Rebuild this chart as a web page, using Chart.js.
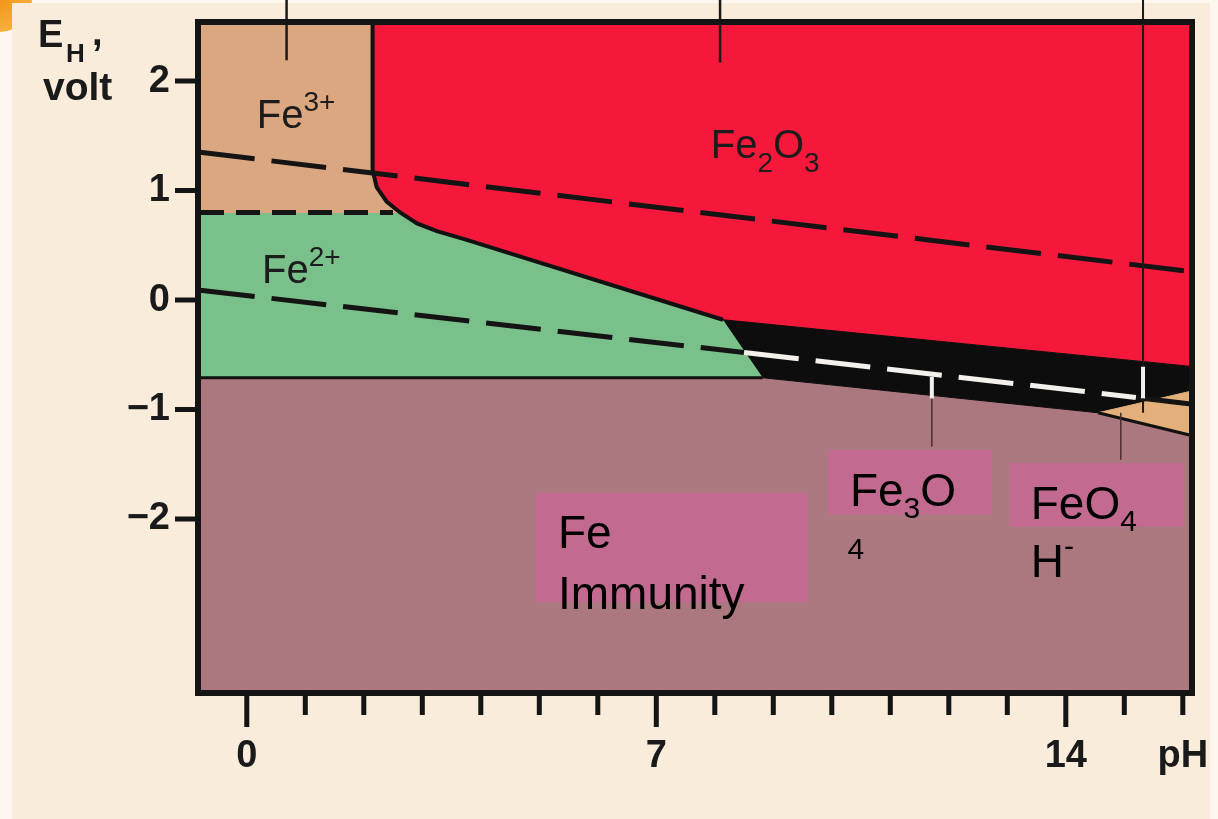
<!DOCTYPE html>
<html>
<head>
<meta charset="utf-8">
<script src="https://cdn.jsdelivr.net/npm/chart.js@4.4.1/dist/chart.umd.min.js"></script>
<style>
  html, body { margin: 0; padding: 0; background: #f9ecdb; }
  #wrap { position: relative; width: 1218px; height: 819px; }
</style>
</head>
<body>
<div id="wrap"><canvas id="pourbaix" width="1218" height="819"></canvas></div>
<script>
// [pH, potential in volt] pairs
var fe3Region = [[-1, 2.7], [2.15, 2.7], [2.15, 1.19], [2.22, 1.03], [2.39, 0.90], [2.58, 0.80], [-1, 0.80]];
var fe2o3Region = [[2.15, 2.7], [16.4, 2.7], [16.4, -0.62], [8.14, -0.18], [3.76, 0.55], [3.25, 0.63], [2.91, 0.70], [2.62, 0.80], [2.39, 0.90], [2.22, 1.03], [2.15, 1.19]];
var fe2Region = [[-1, 0.80], [2.62, 0.80], [2.91, 0.70], [3.25, 0.63], [3.76, 0.55], [8.14, -0.18], [8.82, -0.71], [-1, -0.71]];
var fe3o4Region = [[8.14, -0.18], [16.4, -0.62], [16.4, -0.81], [14.55, -1.03], [8.82, -0.71]];
var hfeo2Region = [[14.55, -1.03], [16.4, -0.80], [16.4, -1.27]];
var feRegion = [[-1, -0.71], [8.82, -0.71], [14.55, -1.03], [16.4, -1.27], [16.4, -3.8], [-1, -3.8]];

var fe3Boundary = [[2.15, 2.7], [2.15, 1.19], [2.22, 1.03], [2.39, 0.90], [2.62, 0.80], [2.91, 0.70], [3.25, 0.63], [3.76, 0.55], [8.14, -0.18]];
var fe2FeBoundary = [[-1, -0.71], [8.82, -0.71]];
var hfeo2Lower = [[14.55, -1.03], [16.4, -1.27]];

var oxygenLine = [[-0.8, 1.35], [16.14, 0.26]];
var fe3Fe2Line = [[-0.8, 0.80], [2.5, 0.80]];
var hydrogenLine = [[-0.8, 0.09], [8.5, -0.48], [15.2, -0.89], [16.14, -0.95]];

var leaderFe3 = [[0.68, 2.74], [0.68, 2.19]];
var leaderFe2o3 = [[8.09, 2.74], [8.09, 2.17]];
var leaderFe3o4 = [[11.71, -0.70], [11.71, -0.90], [11.71, -1.34]];
var leaderRight = [[15.32, 2.74], [15.32, -0.61], [15.32, -0.90], [15.32, -1.03]];
var leaderHfeo2 = [[14.94, -1.03], [14.94, -1.46]];

var pHTicks = [0, 1, 2, 3, 4, 5, 6, 7, 8, 9, 10, 11, 12, 13, 14, 15, 16];
var pHMajor = [0, 7, 14];
var pHLabels = { 0: '0', 7: '7', 14: '14', 16: 'pH' };
var eTicks = [-2, -1, 0, 1, 2];

// pink label boxes: [pH from, pH to, E top, E bottom]
var boxes = [[4.94, 9.59, -1.76, -2.76], [9.93, 12.74, -1.37, -1.96], [13.03, 16.02, -1.49, -2.07]];

var regionLabels = [
  { at: [0.17, 1.57], parts: [['Fe', 40, 0], ['3+', 28, -17]] },
  { at: [0.26, 0.155], parts: [['Fe', 40, 0], ['2+', 28, -17]] },
  { at: [7.93, 1.30], parts: [['Fe', 40, 0], ['2', 28, 14], ['O', 40, 0], ['3', 28, 14]] }
];
var boxLabels = [
  { at: [5.32, -2.265], parts: [['Fe', 46, 0]] },
  { at: [5.32, -2.82], parts: [['Immunity', 46, 0]] },
  { at: [10.31, -1.88], parts: [['Fe', 46, 0], ['3', 30, 12], ['O', 46, 0]] },
  { at: [10.27, -2.37], parts: [['4', 30, 0]] },
  { at: [13.40, -2.0], parts: [['FeO', 46, 0], ['4', 30, 12]] },
  { at: [13.40, -2.53], parts: [['H', 46, 0], ['-', 30, -21]] }
];

var FONT = '"Liberation Sans", Arial, Helvetica, sans-serif';

function toXY(pairs) {
    return pairs.map(function (p) { return { x: p[0], y: p[1] }; });
}

function area(pairs, color, order) {
    return {
        data: toXY(pairs), showLine: true, fill: 'shape',
        backgroundColor: color, borderColor: color, borderWidth: 1,
        pointRadius: 0, order: order
    };
}

function line(pairs, color, width, dash, order) {
    return {
        data: toXY(pairs), showLine: true, fill: false,
        borderColor: color, borderWidth: width, borderDash: dash || [],
        pointRadius: 0, order: order
    };
}

function drawParts(ctx, x, y, parts) {
    parts.forEach(function (p) {
        ctx.font = p[1] + 'px ' + FONT;
        ctx.fillText(p[0], x, y + p[2]);
        x += ctx.measureText(p[0]).width;
    });
}

function noPadding(s) {
    s.paddingTop = 0; s.paddingBottom = 0; s.paddingLeft = 0; s.paddingRight = 0;
}

var hydro = line(hydrogenLine, '#141414', 5, [55, 17], 3);
hydro.segment = { borderColor: function (c) { return c.p0DataIndex === 1 ? '#f4f1ec' : '#141414'; } };

var right = line(leaderRight, '#1a1a1a', 2, null, 2);
right.clip = false;
right.segment = {
    borderColor: function (c) { return c.p0DataIndex === 1 ? '#f4f1ec' : '#1a1a1a'; },
    borderWidth: function (c) { return c.p0DataIndex === 1 ? 4 : 2; }
};
var mid = line(leaderFe3o4, '#4a2f33', 1.5, null, 2);
mid.segment = {
    borderColor: function (c) { return c.p0DataIndex === 0 ? '#f4f1ec' : '#4a2f33'; },
    borderWidth: function (c) { return c.p0DataIndex === 0 ? 4 : 1.5; }
};
var top1 = line(leaderFe3, '#1a1a1a', 2.5, null, 2); top1.clip = false;
var top2 = line(leaderFe2o3, '#1a1a1a', 2.5, null, 2); top2.clip = false;

var backdrop = {
    id: 'backdrop',
    beforeDraw: function (chart) {
        var ctx = chart.ctx;
        ctx.save();
        ctx.fillStyle = '#fdf7f0';
        ctx.fillRect(0, 0, chart.width, chart.height);
        var g = ctx.createRadialGradient(0, 0, 5, 0, 0, 34);
        g.addColorStop(0, '#f39a1c');
        g.addColorStop(1, '#f7b142');
        ctx.fillStyle = g;
        ctx.beginPath();
        ctx.arc(0, 0, 32, 0, Math.PI / 2);
        ctx.lineTo(0, 0);
        ctx.fill();
        ctx.fillStyle = '#f9ecdb';
        ctx.fillRect(12, 3, chart.width - 20, chart.height - 3);
        ctx.restore();
    },
    afterDatasetsDraw: function (chart) {
        var ctx = chart.ctx, xs = chart.scales.x, ys = chart.scales.y, a = chart.chartArea;
        ctx.save();
        ctx.fillStyle = '#1c1c1c';
        regionLabels.forEach(function (l) {
            drawParts(ctx, xs.getPixelForValue(l.at[0]), ys.getPixelForValue(l.at[1]), l.parts);
        });
        ctx.fillStyle = '#c26a8f';
        boxes.forEach(function (b) {
            var x0 = xs.getPixelForValue(b[0]), x1 = xs.getPixelForValue(b[1]);
            var y0 = ys.getPixelForValue(b[2]), y1 = ys.getPixelForValue(b[3]);
            ctx.fillRect(x0, y0, x1 - x0, y1 - y0);
        });
        ctx.fillStyle = '#000';
        boxLabels.forEach(function (l) {
            drawParts(ctx, xs.getPixelForValue(l.at[0]), ys.getPixelForValue(l.at[1]), l.parts);
        });

        // frame and tick marks
        ctx.strokeStyle = '#141414';
        ctx.lineWidth = 6;
        ctx.strokeRect(a.left - 2, a.top, a.right - a.left + 3, a.bottom - a.top);
        ctx.lineWidth = 5;
        ctx.beginPath();
        pHTicks.forEach(function (v) {
            var px = xs.getPixelForValue(v);
            ctx.moveTo(px, a.bottom);
            ctx.lineTo(px, a.bottom + (pHMajor.indexOf(v) >= 0 ? 34 : 22));
        });
        eTicks.forEach(function (v) {
            var py = ys.getPixelForValue(v);
            ctx.moveTo(a.left - 25, py);
            ctx.lineTo(a.left, py);
        });
        ctx.stroke();

        // axis title
        ctx.fillStyle = '#1a1a1a';
        ctx.font = 'bold 38px ' + FONT;
        ctx.fillText('E', 38, 47);
        ctx.fillText(',', 92, 45);
        ctx.font = 'bold 26px ' + FONT;
        ctx.fillText('H', 66, 62);
        ctx.font = 'bold 39px ' + FONT;
        ctx.fillText('volt', 43, 100);
        ctx.restore();
    }
};

new Chart(document.getElementById('pourbaix'), {
    type: 'scatter',
    data: {
        datasets: [
            top1, top2, right, mid,
            line(leaderHfeo2, '#4a2f33', 1.5, null, 2),
            line(oxygenLine, '#141414', 5, [55, 17], 3),
            line(fe3Fe2Line, '#141414', 5, [24, 12], 3),
            hydro,
            line(fe3Boundary, '#111', 4, null, 4),
            line(fe2FeBoundary, '#111', 3, null, 4),
            line(hfeo2Lower, '#111', 3, null, 4),
            area(hfeo2Region, '#e3b07c', 6),
            area(fe3o4Region, '#0d0d0d', 6),
            area(fe3Region, '#dba781', 8),
            area(fe2o3Region, '#f5183a', 8),
            area(fe2Region, '#7ac08a', 8),
            area(feRegion, '#ab7880', 9)
        ]
    },
    options: {
        responsive: false,
        animation: false,
        devicePixelRatio: 1,
        layout: { padding: { top: 22, right: 27, left: 0, bottom: 0 } },
        plugins: { legend: { display: false }, tooltip: { enabled: false } },
        scales: {
            x: {
                type: 'linear', min: -0.8, max: 16.14,
                afterBuildTicks: function (s) { s.ticks = pHTicks.map(function (v) { return { value: v }; }); },
                afterFit: function (s) { s.height = 126; noPadding(s); },
                grid: { display: false, drawTicks: false },
                border: { display: false },
                ticks: {
                    autoSkip: false, maxRotation: 0, padding: 41, color: '#1a1a1a',
                    font: { family: FONT, size: 38, weight: 'bold' },
                    callback: function (v) { return pHLabels[v] || ''; }
                }
            },
            y: {
                type: 'linear', min: -3.59, max: 2.54,
                afterBuildTicks: function (s) { s.ticks = eTicks.map(function (v) { return { value: v }; }); },
                afterFit: function (s) { s.width = 200; noPadding(s); },
                grid: { display: false, drawTicks: false },
                border: { display: false },
                ticks: {
                    padding: 30, color: '#1a1a1a',
                    font: { family: FONT, size: 38, weight: 'bold' },
                    callback: function (v) { return v < 0 ? '\u2212' + Math.abs(v) : String(v); }
                }
            }
        }
    },
    plugins: [backdrop]
});
</script>
</body>
</html>
